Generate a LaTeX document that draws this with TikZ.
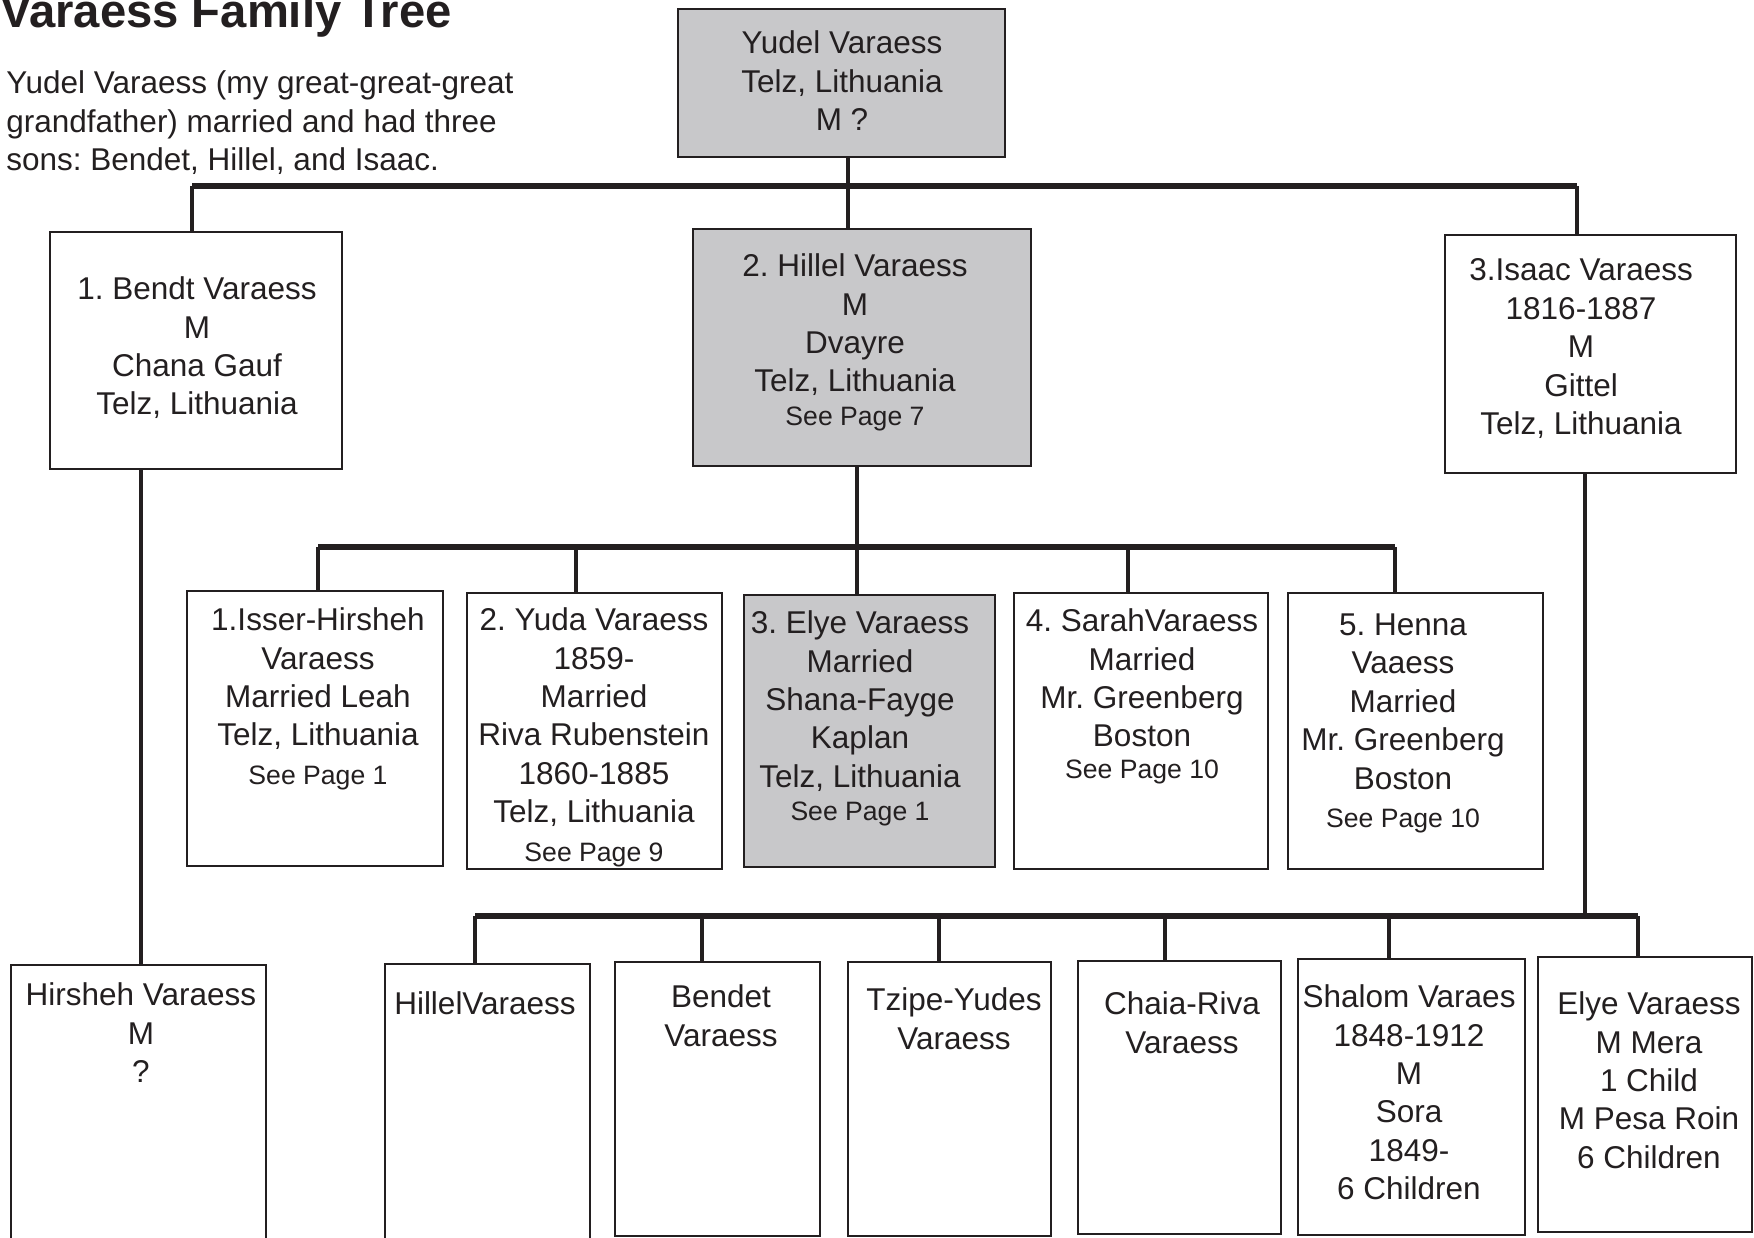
\documentclass[tikz,border=0pt]{standalone}
\usepackage{fontspec}
\setmainfont{Liberation Sans}
\usetikzlibrary{positioning,fit}
\definecolor{ink}{RGB}{35,31,32}
\definecolor{shade}{RGB}{200,200,202}
\newcommand\seepage{\fontsize{13.3}{16}\selectfont}
\frenchspacing
\begin{document}
\begin{tikzpicture}[x=0.5pt,y=-0.5pt,
    person/.style={draw=ink,line width=1.1pt,fill=white,inner sep=0pt},
    elder/.style={person,fill=shade},
    names/.style={align=center,anchor=north,yshift=11.3pt,inner sep=0pt,text=ink,
        font=\fontsize{15.75}{19.2}\selectfont},
    link/.style={draw=ink,line width=2pt},
    bar/.style={draw=ink,line width=2.6pt}]
\useasboundingbox (0,0) rectangle (1754,1237);

\node [anchor=base west,inner sep=0pt,text=ink,font=\fontsize{23.6}{28}\selectfont\bfseries] (title) at (0,27) {Varaess Family Tree};
\node [names,align=left,anchor=north west] (intro) at (6,93)
    {Yudel Varaess (my great-great-great\\grandfather) married and had three\\sons: Bendet, Hillel, and Isaac.};

\node [elder,fit={(678,9) (1005,157)}] (yudel) {};
\node [person,fit={(50,232) (342,469)}] (bendt) {};
\node [elder,fit={(693,229) (1031,466)}] (hillel) {};
\node [person,fit={(1445,235) (1736,473)}] (isaac) {};

\node [person,fit={(187,591) (443,866)}] (isser) {};
\node [person,fit={(467,593) (722,869)}] (yuda) {};
\node [elder,fit={(744,595) (995,867)}] (elye) {};
\node [person,fit={(1014,593) (1268,869)}] (sarah) {};
\node [person,fit={(1288,593) (1543,869)}] (henna) {};

\node [person,fit={(11,965) (266,1250)}] (hirsheh) {};
\node [person,fit={(385,964) (590,1250)}] (hillelv) {};
\node [person,fit={(615,962) (820,1236)}] (bendet) {};
\node [person,fit={(848,962) (1051,1236)}] (tzipe) {};
\node [person,fit={(1078,961) (1281,1234)}] (chaia) {};
\node [person,fit={(1298,959) (1525,1235)}] (shalom) {};
\node [person,fit={(1538,957) (1752,1232)}] (elyev) {};

\node [names] (yudel-t) at (842,53) {Yudel Varaess\\Telz, Lithuania\\M ?};
\node [names] (bendt-t) at (197,299) {1. Bendt Varaess\\M\\Chana Gauf\\Telz, Lithuania};
\node [names] (hillel-t) at (855,276) {2. Hillel Varaess\\M\\Dvayre\\Telz, Lithuania\\[-2.5pt]{\seepage See Page 7}};
\node [names] (isaac-t) at (1581,281) {3.Isaac Varaess\\1816-1887\\M\\Gittel\\Telz, Lithuania};

\node [names] (isser-t) at (318,630) {1.Isser-Hirsheh\\Varaess\\Married Leah\\Telz, Lithuania\\{\seepage See Page 1}};
\node [names] (yuda-t) at (594,630) {2. Yuda Varaess\\1859-\\Married\\Riva Rubenstein\\1860-1885\\Telz, Lithuania\\{\seepage See Page 9}};
\node [names] (elye-t) at (860,633) {3. Elye Varaess\\Married\\Shana-Fayge\\Kaplan\\Telz, Lithuania\\[-2.5pt]{\seepage See Page 1}};
\node [names] (sarah-t) at (1142,631) {4. SarahVaraess\\Married\\Mr. Greenberg\\Boston\\[-3.5pt]{\seepage See Page 10}};
\node [names] (henna-t) at (1403,636) {5. Henna\\Vaaess\\Married\\Mr. Greenberg\\Boston\\{\seepage See Page 10}};

\node [names] (hirsheh-t) at (141,1005) {Hirsheh Varaess\\M\\?};
\node [names] (hillelv-t) at (485,1014) {HillelVaraess};
\node [names] (bendet-t) at (721,1007) {Bendet\\Varaess};
\node [names] (tzipe-t) at (954,1010) {Tzipe-Yudes\\Varaess};
\node [names] (chaia-t) at (1182,1014) {Chaia-Riva\\Varaess};
\node [names] (shalom-t) at (1409,1007) {Shalom Varaes\\1848-1912\\M\\Sora\\1849-\\6 Children};
\node [names] (elyev-t) at (1649,1014) {Elye Varaess\\M Mera\\1 Child\\M Pesa Roin\\6 Children};

\coordinate (top-l) at (192,186);
\coordinate (top-r) at (1577,186);
\coordinate (top-m) at (848,186);
\draw [bar] (top-l) -- (top-r);
\draw [link] (top-l) -- (top-l |- bendt.north);
\draw [link] (top-r) -- (top-r |- isaac.north);
\draw [link] (yudel.south -| top-m) -- (top-m |- hillel.north);

\coordinate (mid-l) at (318,547);
\coordinate (mid-r) at (1395,547);
\coordinate (mid-m) at (857,547);
\draw [bar] (mid-l) -- (mid-r);
\draw [link] (hillel.south -| mid-m) -- (mid-m);
\foreach \n/\x in {isser/318,yuda/576,elye/857,sarah/1128,henna/1395}
    \draw [link] (\x,547) -- (\x,0 |- \n.north);

\coordinate (low-l) at (475,916);
\coordinate (low-r) at (1638,916);
\coordinate (low-m) at (1585,916);
\draw [bar] (low-l) -- (low-r);
\draw [link] (isaac.south -| low-m) -- (low-m);
\foreach \n/\x in {hillelv/475,bendet/702,tzipe/939,chaia/1165,shalom/1389,elyev/1638}
    \draw [link] (\x,916) -- (\x,0 |- \n.north);

\coordinate (left-m) at (141,473);
\draw [link] (bendt.south -| left-m) -- (left-m |- hirsheh.north);
\end{tikzpicture}
\end{document}
